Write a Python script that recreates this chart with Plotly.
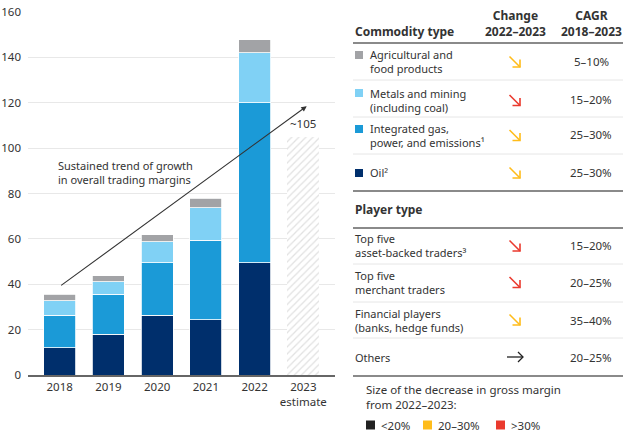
import plotly.graph_objects as go

W, H = 624, 437

# ---------------- data ----------------
years = ["2018", "2019", "2020", "2021", "2022", "2023<br>estimate"]
oil = [12.1, 17.9, 26.3, 24.3, 49.4, None]
gas = [14.2, 17.8, 23.1, 35.1, 70.6, None]
metals = [6.5, 5.5, 9.3, 14.3, 22.1, None]
agri = [2.9, 2.6, 3.2, 4.2, 5.7, None]
estimate = [None, None, None, None, None, 105]
estimate_label = "~105"

y_ticks = [0, 20, 40, 60, 80, 100, 120, 140, 160]

trend_start = (0, 39)
trend_end = (5.07, 118.5)
trend_text = "Sustained trend of growth<br>in overall trading margins"

commodity_labels = ["Agricultural and<br>food products",
                    "Metals and mining<br>(including coal)",
                    "Integrated gas,<br>power, and emissions¹",
                    "Oil²"]
commodity_change = ["mid", "high", "mid", "mid"]
commodity_cagr = ["5–10%", "15–20%", "25–30%", "25–30%"]

player_labels = ["Top five<br>asset-backed traders³",
                 "Top five<br>merchant traders",
                 "Financial players<br>(banks, hedge funds)",
                 "Others"]
player_change = ["high", "high", "mid", "flat"]
player_cagr = ["15–20%", "20–25%", "35–40%", "20–25%"]

legend_labels = ["<20%", "20–30%", ">30%"]
legend_keys = ["low", "mid", "high"]

# ---------------- styles ----------------
C_OIL = "#002f6c"
C_GAS = "#1b9ad7"
C_MET = "#80d1f5"
C_AGR = "#a2a3a6"
C_TXT = "#333333"
FONT = "Noto Sans"
change_color = {"low": "#222222", "mid": "#ffbc1a", "high": "#ea3a2e", "flat": "#222222"}

def px(x):
    return x / W

def py(y):
    return 1 - y / H

fig = go.Figure()
line = dict(color="white", width=0.8)
fig.add_bar(x=years, y=oil, marker=dict(color=C_OIL, line=line), name="Oil")
fig.add_bar(x=years, y=gas, marker=dict(color=C_GAS, line=line), name="Gas")
fig.add_bar(x=years, y=metals, marker=dict(color=C_MET, line=line), name="Metals")
fig.add_bar(x=years, y=agri, marker=dict(color=C_AGR, line=line), name="Agri")
fig.add_bar(x=years, y=estimate, name="Estimate",
            marker=dict(color="white", line=dict(width=0),
                        pattern=dict(shape="/", fgcolor="#c4c4c4", bgcolor="white",
                                     size=5, solidity=0.25)))

annotations = []
shapes = []

# estimate label
annotations.append(dict(x=5, y=105, xref="x", yref="y", text=estimate_label,
                        showarrow=False, yanchor="bottom", yshift=4,
                        font=dict(size=11.5, color=C_TXT, family=FONT)))
# trend arrow
annotations.append(dict(x=trend_end[0], y=trend_end[1], ax=trend_start[0], ay=trend_start[1],
                        xref="x", yref="y", axref="x", ayref="y", text="",
                        showarrow=True, arrowhead=2, arrowsize=1, arrowwidth=1.1,
                        arrowcolor="#333333"))
annotations.append(dict(x=px(56), y=py(172), xref="paper", yref="paper", text=trend_text,
                        showarrow=False, xanchor="left", yanchor="middle", align="left",
                        font=dict(size=11, color=C_TXT, family=FONT)))

# ---------------- table ----------------
X_LEFT = 353
X_RIGHT = 623
X_CHG = 515
X_CAGR = 591

def txt(x, y, t, size=11, bold=False, anchor="left", color=C_TXT, family=FONT, align=None):
    if bold:
        t = "<b>" + t + "</b>"
    annotations.append(dict(x=px(x), y=py(y), xref="paper", yref="paper", text=t,
                            showarrow=False, xanchor=anchor, yanchor="middle",
                            align=align or anchor,
                            font=dict(size=size, color=color, family=family)))

def hline(y, color, width):
    shapes.append(dict(type="line", xref="paper", yref="paper", x0=px(X_LEFT), x1=px(X_RIGHT),
                       y0=py(y), y1=py(y), line=dict(color=color, width=width)))

def square(x, y, color, s=8):
    shapes.append(dict(type="rect", xref="paper", yref="paper", x0=px(x), x1=px(x + s),
                       y0=py(y - s / 2), y1=py(y + s / 2), fillcolor=color,
                       line=dict(width=0)))

def polyline(points, color, width):
    d = "M " + " L ".join(f"{px(a):.5f},{py(b):.5f}" for a, b in points)
    shapes.append(dict(type="path", xref="paper", yref="paper", path=d,
                       line=dict(color=color, width=width)))

def change_arrow(cx, cy, kind):
    col = change_color[kind]
    if kind == "flat":
        polyline([(cx - 8, cy), (cx + 8, cy)], col, 1.3)
        polyline([(cx + 3, cy - 5), (cx + 8, cy), (cx + 3, cy + 5)], col, 1.3)
    else:
        polyline([(cx - 5.5, cy - 5.5), (cx + 5, cy + 5)], col, 1.6)
        polyline([(cx + 5, cy - 2.5), (cx + 5, cy + 5), (cx - 2.5, cy + 5)], col, 1.6)

txt(X_LEFT, 32, "Commodity type", size=12, bold=True)
txt(X_CHG, 23.5, "Change<br>2022–2023", size=12, bold=True, anchor="center")
txt(X_CAGR, 23.5, "CAGR<br>2018–2023", size=12, bold=True, anchor="center")
hline(43, "#8a8a8a", 2)

com_centers = [62, 100.5, 135.5, 173]
com_sq = [55, 93, 129, 173]
com_colors = [C_AGR, C_MET, C_GAS, C_OIL]
for i, lab in enumerate(commodity_labels):
    square(355, com_sq[i], com_colors[i])
    txt(368, com_centers[i], lab)
    change_arrow(X_CHG, com_centers[i], commodity_change[i])
    txt(X_CAGR, com_centers[i] - 1, commodity_cagr[i], size=11.5, anchor="center")
for y in [80, 117, 154]:
    hline(y, "#e6e6e6", 1)
hline(191, "#8a8a8a", 2)

txt(X_LEFT, 209, "Player type", size=12, bold=True)
hline(228, "#8a8a8a", 2)
pl_centers = [246, 282.5, 320, 357]
for i, lab in enumerate(player_labels):
    txt(X_LEFT, pl_centers[i], lab)
    change_arrow(X_CHG, pl_centers[i], player_change[i])
    txt(X_CAGR, pl_centers[i], player_cagr[i], size=11.5, anchor="center")
for y in [264, 302, 338]:
    hline(y, "#e6e6e6", 1)
hline(376, "#8a8a8a", 2)

txt(364, 396.5, "Size of the decrease in gross margin<br>from 2022–2023:", size=11.5)
leg_x = [366, 423, 496]
for i, lab in enumerate(legend_labels):
    square(leg_x[i], 425, change_color[legend_keys[i]], s=9)
    txt(leg_x[i] + 13, 425, lab, size=11.5)

fig.update_layout(
    width=W, height=H, margin=dict(l=0, r=0, t=0, b=0, autoexpand=False),
    paper_bgcolor="white", plot_bgcolor="white",
    barmode="stack", bargap=0.343, showlegend=False,
    font=dict(family=FONT, size=11, color=C_TXT),
    annotations=annotations, shapes=shapes,
    xaxis=dict(domain=[px(28), px(335)], range=[-0.65, 5.65], type="category",
               automargin=False,
               showline=True, linecolor="#666666", linewidth=1.5, ticks="",
               tickfont=dict(size=11.5, color=C_TXT), showgrid=False),
    yaxis=dict(domain=[py(375), py(12)], range=[0, 160], tickvals=y_ticks,
               automargin=False,
               showgrid=True, gridcolor="#e8e8e8", gridwidth=1, zeroline=False,
               ticks="", ticklabelstandoff=6,
               tickfont=dict(size=11.5, color=C_TXT)),
)

fig.write_html("out.html", config={"displayModeBar": False},
               post_script="document.body.style.margin='0';document.body.style.padding='0';"
                           "document.documentElement.style.overflow='hidden';")
